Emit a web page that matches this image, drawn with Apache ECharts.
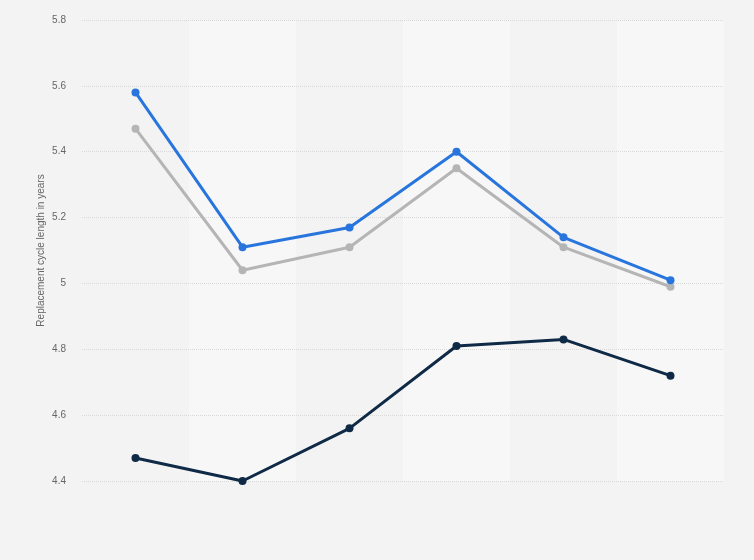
<!DOCTYPE html>
<html>
<head>
<meta charset="utf-8">
<script src="https://cdn.jsdelivr.net/npm/echarts@6/dist/echarts.min.js"></script>
<style>html,body{margin:0;padding:0;background:#f3f3f3;}#c{width:754px;height:560px;}</style>
</head>
<body>
<div id="c"></div>
<script>
var categories = ['1', '2', '3', '4', '5', '6'];
var seriesBlue = [5.58, 5.11, 5.17, 5.40, 5.14, 5.01];
var seriesGray = [5.47, 5.04, 5.11, 5.35, 5.11, 4.99];
var seriesDark = [4.47, 4.40, 4.56, 4.81, 4.83, 4.72];
var yTicks = [4.4, 4.6, 4.8, 5, 5.2, 5.4, 5.6, 5.8];
var yTitle = 'Replacement cycle length in years';

var chart = echarts.init(document.getElementById('c'), null, {renderer: 'canvas'});
function mk(name, data, color) {
  return {
    name: name, type: 'line', data: data, z: 5,
    symbol: 'circle', symbolSize: 8,
    lineStyle: {width: 3, color: color},
    itemStyle: {color: color},
    animation: false
  };
}
chart.setOption({
  backgroundColor: '#f3f3f3',
  animation: false,
  grid: {left: 82, right: 30, top: 20, bottom: 79},
  xAxis: {
    type: 'category', data: categories, boundaryGap: true, z: 0,
    axisLine: {show: false}, axisTick: {show: false}, axisLabel: {show: false},
    splitLine: {show: false},
    splitArea: {show: true, areaStyle: {color: ['rgba(0,0,0,0)', '#f7f7f7']}}
  },
  yAxis: {
    type: 'value', min: yTicks[0], max: yTicks[yTicks.length - 1], interval: 0.2, z: 2,
    name: yTitle, nameLocation: 'middle', nameGap: 36, nameMoveOverlap: false,
    nameTextStyle: {color: '#666', fontSize: 10, fontFamily: 'Liberation Sans, Arial, sans-serif'},
    axisLine: {show: false}, axisTick: {show: false},
    axisLabel: {color: '#666', fontSize: 10, margin: 16, fontFamily: 'Liberation Sans, Arial, sans-serif',
      formatter: function (v) { return String(Math.round(v * 10) / 10); }},
    splitLine: {show: true, lineStyle: {color: '#d9d9d9', type: [1, 1], width: 1}}
  },
  series: [
    mk('Gray', seriesGray, '#b5b5b5'),
    mk('Blue', seriesBlue, '#2876dd'),
    mk('Dark', seriesDark, '#0f2a46')
  ]
});
</script>
</body>
</html>
